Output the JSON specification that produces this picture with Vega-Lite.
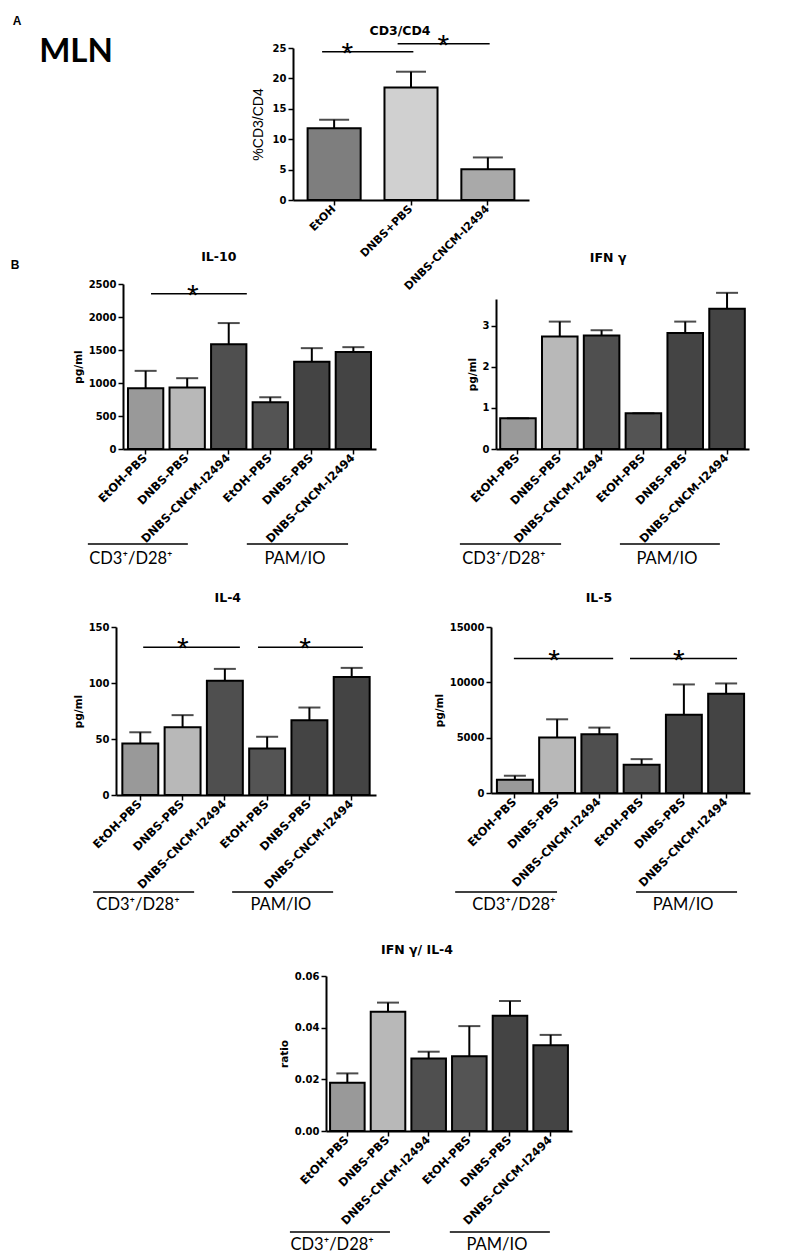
{
  "$schema": "https://vega.github.io/schema/vega-lite/v6.json",
  "width": 787,
  "height": 1253,
  "autosize": {"type": "none"},
  "padding": 0,
  "background": "white",
  "config": {
    "view": {"stroke": null},
    "axis": {"domainColor": "black", "domainWidth": 2, "tickColor": "black", "tickWidth": 1.5, "tickSize": 5, "labelColor": "black", "labelFont": "DejaVu Sans", "labelFontWeight": "bold", "labelFontSize": 10, "titleFont": "DejaVu Sans", "titleFontWeight": "bold", "titleFontSize": 10.5, "titleColor": "black", "grid": false, "labelPadding": 2, "titlePadding": 5},
    "axisX": {"labelAngle": -45, "labelAlign": "right", "labelBaseline": "middle", "labelFontSize": 11.5}
  },
  "datasets": {
    "A": [
      {"k": "EtOH", "v": 11.8, "u": 13.2},
      {"k": "DNBS+PBS", "v": 18.5, "u": 21.1},
      {"k": "DNBS-CNCM-I2494", "v": 5.05, "u": 7.0}
    ],
    "Asig": [
      {"a": 0.37, "b": 1.53, "s": 0.69, "v": 24.4},
      {"a": 1.33, "b": 2.5, "s": 1.91, "v": 25.7}
    ],
    "IL10": [
      {"k": "CD3:EtOH-PBS", "v": 920, "u": 1184},
      {"k": "CD3:DNBS-PBS", "v": 930, "u": 1073},
      {"k": "CD3:DNBS-CNCM-I2494", "v": 1589, "u": 1908},
      {"k": "PAM:EtOH-PBS", "v": 708, "u": 784},
      {"k": "PAM:DNBS-PBS", "v": 1321, "u": 1528},
      {"k": "PAM:DNBS-CNCM-I2494", "v": 1468, "u": 1543}
    ],
    "IL10sig": [{"a": 0.67, "b": 2.96, "s": 1.67, "v": 2353}],
    "IL10g": [
      {"g": "CD3⁺/D28⁺", "a": -0.84, "b": 1.55, "m": 0.19},
      {"g": "PAM/IO", "a": 2.96, "b": 5.38, "m": 4.11}
    ],
    "IFN": [
      {"k": "CD3:EtOH-PBS", "v": 0.75, "u": 0.75},
      {"k": "CD3:DNBS-PBS", "v": 2.74, "u": 3.1},
      {"k": "CD3:DNBS-CNCM-I2494", "v": 2.76, "u": 2.89},
      {"k": "PAM:EtOH-PBS", "v": 0.87, "u": 0.87},
      {"k": "PAM:DNBS-PBS", "v": 2.82, "u": 3.1},
      {"k": "PAM:DNBS-CNCM-I2494", "v": 3.41, "u": 3.8}
    ],
    "IFNg": [
      {"g": "CD3⁺/D28⁺", "a": -0.86, "b": 1.55, "m": 0.19},
      {"g": "PAM/IO", "a": 2.95, "b": 5.33, "m": 4.07}
    ],
    "IL4": [
      {"k": "CD3:EtOH-PBS", "v": 46, "u": 56},
      {"k": "CD3:DNBS-PBS", "v": 60.6, "u": 71.3},
      {"k": "CD3:DNBS-CNCM-I2494", "v": 101.9, "u": 112.6},
      {"k": "PAM:EtOH-PBS", "v": 41.6, "u": 52},
      {"k": "PAM:DNBS-PBS", "v": 66.8, "u": 78.1},
      {"k": "PAM:DNBS-CNCM-I2494", "v": 105.4, "u": 113.5}
    ],
    "IL4sig": [
      {"a": 0.63, "b": 2.87, "s": 1.55, "v": 132},
      {"a": 3.29, "b": 5.72, "s": 4.38, "v": 132}
    ],
    "IL4g": [
      {"g": "CD3⁺/D28⁺", "a": -0.53, "b": 1.81, "m": 0.51},
      {"g": "PAM/IO", "a": 2.69, "b": 5.03, "m": 3.82}
    ],
    "IL5": [
      {"k": "CD3:EtOH-PBS", "v": 1200, "u": 1560},
      {"k": "CD3:DNBS-PBS", "v": 5010, "u": 6660},
      {"k": "CD3:DNBS-CNCM-I2494", "v": 5310, "u": 5910},
      {"k": "PAM:EtOH-PBS", "v": 2550, "u": 3060},
      {"k": "PAM:DNBS-PBS", "v": 7080, "u": 9810},
      {"k": "PAM:DNBS-CNCM-I2494", "v": 8970, "u": 9900}
    ],
    "IL5sig": [
      {"a": 0.53, "b": 2.83, "s": 1.46, "v": 12150},
      {"a": 3.22, "b": 5.7, "s": 4.35, "v": 12150}
    ],
    "IL5g": [
      {"g": "CD3⁺/D28⁺", "a": -0.83, "b": 1.53, "m": 0.53},
      {"g": "PAM/IO", "a": 3.36, "b": 5.7, "m": 4.45}
    ],
    "R": [
      {"k": "CD3:EtOH-PBS", "v": 0.0187, "u": 0.0223},
      {"k": "CD3:DNBS-PBS", "v": 0.0462, "u": 0.0497},
      {"k": "CD3:DNBS-CNCM-I2494", "v": 0.0281, "u": 0.0307},
      {"k": "PAM:EtOH-PBS", "v": 0.0289, "u": 0.0406},
      {"k": "PAM:DNBS-PBS", "v": 0.0446, "u": 0.0503},
      {"k": "PAM:DNBS-CNCM-I2494", "v": 0.0332, "u": 0.0372}
    ],
    "Rg": [
      {"g": "CD3⁺/D28⁺", "a": -0.88, "b": 1.56, "m": 0.15},
      {"g": "PAM/IO", "a": 3.02, "b": 5.46, "m": 4.17}
    ]
  },
  "layer": [
    {
      "layer": [
        {
          "data": {"name": "A"},
          "encoding": {"x": {"field": "k", "type": "nominal", "sort": null, "title": null, "scale": {"domain": ["EtOH", "DNBS+PBS", "DNBS-CNCM-I2494"], "range": [293, 529], "paddingInner": 0.31, "paddingOuter": 0.19}, "axis": {"orient": "bottom", "offset": -1053, "labelFontSize": 11}}},
          "layer": [
            {"mark": {"type": "bar", "stroke": "black", "strokeWidth": 2},
             "encoding": {"y": {"field": "v", "type": "quantitative", "title": "%CD3/CD4", "scale": {"domain": [0, 25], "range": [200, 48], "nice": false, "zero": false}, "axis": {"orient": "left", "offset": -293, "values": [0, 5, 10, 15, 20, 25], "titleFont": "Liberation Sans", "titleFontWeight": "normal", "titleFontSize": 14, "titlePadding": 7}},
                          "fill": {"field": "k", "type": "nominal", "legend": null, "scale": {"domain": ["EtOH", "DNBS+PBS", "DNBS-CNCM-I2494"], "range": ["#7e7e7e", "#d0d0d0", "#a9a9a9"]}}}},
            {"mark": {"type": "rule", "color": "black", "strokeWidth": 2},
             "encoding": {"y": {"field": "v", "type": "quantitative", "title": "%CD3/CD4", "scale": {"domain": [0, 25], "range": [200, 48], "nice": false, "zero": false}, "axis": {"orient": "left", "offset": -293, "values": [0, 5, 10, 15, 20, 25], "titleFont": "Liberation Sans", "titleFontWeight": "normal", "titleFontSize": 14, "titlePadding": 7}}, "y2": {"field": "u"}}},
            {"mark": {"type": "tick", "color": "black", "thickness": 2, "size": 30},
             "encoding": {"y": {"field": "u", "type": "quantitative", "title": "%CD3/CD4", "scale": {"domain": [0, 25], "range": [200, 48], "nice": false, "zero": false}, "axis": {"orient": "left", "offset": -293, "values": [0, 5, 10, 15, 20, 25], "titleFont": "Liberation Sans", "titleFontWeight": "normal", "titleFontSize": 14, "titlePadding": 7}}}}
          ]
        },
        {
          "data": {"name": "Asig"},
          "encoding": {"y": {"field": "v", "type": "quantitative", "scale": {"domain": [0, 25], "range": [200, 48], "nice": false, "zero": false}, "axis": null}},
          "layer": [
            {"mark": {"type": "rule", "color": "black", "strokeWidth": 1.5},
             "encoding": {"x": {"field": "a", "type": "quantitative", "scale": {"domain": [0, 3], "range": [293, 529], "nice": false, "zero": false}, "axis": null}, "x2": {"field": "b"}}},
            {"mark": {"type": "text", "text": "*", "font": "Liberation Sans", "fontSize": 30, "dy": 11, "baseline": "alphabetic", "align": "center", "color": "black"},
             "encoding": {"x": {"field": "s", "type": "quantitative", "scale": {"domain": [0, 3], "range": [293, 529], "nice": false, "zero": false}, "axis": null}}}
          ]
        },
        {
          "data": {"values": [{}]},
          "mark": {"type": "text", "text": "CD3/CD4", "font": "DejaVu Sans", "fontWeight": "bold", "fontSize": 12.5, "align": "center", "baseline": "alphabetic", "color": "black"},
          "encoding": {"x": {"datum": 1.36, "type": "quantitative", "scale": {"domain": [0, 3], "range": [293, 529], "nice": false, "zero": false}, "axis": null},
                       "y": {"datum": 27.1, "type": "quantitative", "scale": {"domain": [0, 25], "range": [200, 48], "nice": false, "zero": false}, "axis": null}}
        }
      ],
      "resolve": {"scale": {"x": "independent", "y": "independent"}, "axis": {"x": "independent", "y": "independent"}}
    },
    {
      "layer": [
        {
          "data": {"name": "IL10"},
          "encoding": {"x": {"field": "k", "type": "nominal", "sort": null, "title": null, "scale": {"domain": ["CD3:EtOH-PBS", "CD3:DNBS-PBS", "CD3:DNBS-CNCM-I2494", "PAM:EtOH-PBS", "PAM:DNBS-PBS", "PAM:DNBS-CNCM-I2494"], "range": [123, 376], "paddingInner": 0.15, "paddingOuter": 0.12}, "axis": {"orient": "bottom", "offset": -804, "labelExpr": "split(datum.value, ':')[1]"}}},
          "layer": [
            {"mark": {"type": "bar", "stroke": "black", "strokeWidth": 2},
             "encoding": {"y": {"field": "v", "type": "quantitative", "title": "pg/ml", "scale": {"domain": [0, 2500], "range": [449, 284], "nice": false, "zero": false}, "axis": {"orient": "left", "offset": -123, "values": [0, 500, 1000, 1500, 2000, 2500], "format": "d"}},
                          "fill": {"field": "k", "type": "nominal", "legend": null, "scale": {"domain": ["CD3:EtOH-PBS", "CD3:DNBS-PBS", "CD3:DNBS-CNCM-I2494", "PAM:EtOH-PBS", "PAM:DNBS-PBS", "PAM:DNBS-CNCM-I2494"], "range": ["#999999", "#b8b8b8", "#4f4f4f", "#545454", "#444444", "#444444"]}}}},
            {"mark": {"type": "rule", "color": "black", "strokeWidth": 2},
             "encoding": {"y": {"field": "v", "type": "quantitative", "title": "pg/ml", "scale": {"domain": [0, 2500], "range": [449, 284], "nice": false, "zero": false}, "axis": {"orient": "left", "offset": -123, "values": [0, 500, 1000, 1500, 2000, 2500], "format": "d"}}, "y2": {"field": "u"}}},
            {"mark": {"type": "tick", "color": "black", "thickness": 2, "size": 22},
             "encoding": {"y": {"field": "u", "type": "quantitative", "title": "pg/ml", "scale": {"domain": [0, 2500], "range": [449, 284], "nice": false, "zero": false}, "axis": {"orient": "left", "offset": -123, "values": [0, 500, 1000, 1500, 2000, 2500], "format": "d"}}}}
          ]
        },
        {
          "data": {"name": "IL10sig"},
          "encoding": {"y": {"field": "v", "type": "quantitative", "scale": {"domain": [0, 2500], "range": [449, 284], "nice": false, "zero": false}, "axis": null}},
          "layer": [
            {"mark": {"type": "rule", "color": "black", "strokeWidth": 1.5},
             "encoding": {"x": {"field": "a", "type": "quantitative", "scale": {"domain": [0, 6], "range": [123, 374], "nice": false, "zero": false}, "axis": null}, "x2": {"field": "b"}}},
            {"mark": {"type": "text", "text": "*", "font": "Liberation Sans", "fontSize": 30, "dy": 11, "baseline": "alphabetic", "align": "center", "color": "black"},
             "encoding": {"x": {"field": "s", "type": "quantitative", "scale": {"domain": [0, 6], "range": [123, 374], "nice": false, "zero": false}, "axis": null}}}
          ]
        },
        {
          "data": {"name": "IL10g"},
          "encoding": {"y": {"datum": 0.775, "type": "quantitative", "scale": {"domain": [0, 1], "range": [575, 535], "nice": false, "zero": false}, "axis": null}},
          "layer": [
            {"mark": {"type": "rule", "color": "black", "strokeWidth": 1.5},
             "encoding": {"x": {"field": "a", "type": "quantitative", "scale": {"domain": [0, 6], "range": [123, 374], "nice": false, "zero": false}, "axis": null}, "x2": {"field": "b"}}},
            {"mark": {"type": "text", "font": "Lato", "fontSize": 16.5, "align": "center", "baseline": "middle", "color": "black", "dy": 15},
             "encoding": {"x": {"field": "m", "type": "quantitative", "scale": {"domain": [0, 6], "range": [123, 374], "nice": false, "zero": false}, "axis": null}, "text": {"field": "g"}}}
          ]
        },
        {
          "data": {"values": [{}]},
          "mark": {"type": "text", "text": "IL-10", "font": "DejaVu Sans", "fontWeight": "bold", "fontSize": 12.5, "align": "center", "baseline": "alphabetic", "color": "black"},
          "encoding": {"x": {"datum": 2.29, "type": "quantitative", "scale": {"domain": [0, 6], "range": [123, 374], "nice": false, "zero": false}, "axis": null},
                       "y": {"datum": 2848, "type": "quantitative", "scale": {"domain": [0, 2500], "range": [449, 284], "nice": false, "zero": false}, "axis": null}}
        }
      ],
      "resolve": {"scale": {"x": "independent", "y": "independent"}, "axis": {"x": "independent", "y": "independent"}}
    },
    {
      "layer": [
        {
          "data": {"name": "IFN"},
          "encoding": {"x": {"field": "k", "type": "nominal", "sort": null, "title": null, "scale": {"domain": ["CD3:EtOH-PBS", "CD3:DNBS-PBS", "CD3:DNBS-CNCM-I2494", "PAM:EtOH-PBS", "PAM:DNBS-PBS", "PAM:DNBS-CNCM-I2494"], "range": [496, 749], "paddingInner": 0.15, "paddingOuter": 0.1}, "axis": {"orient": "bottom", "offset": -804, "labelExpr": "split(datum.value, ':')[1]"}}},
          "layer": [
            {"mark": {"type": "bar", "stroke": "black", "strokeWidth": 2},
             "encoding": {"y": {"field": "v", "type": "quantitative", "title": "pg/ml", "scale": {"domain": [0, 3.65], "range": [449, 299], "nice": false, "zero": false}, "axis": {"orient": "left", "offset": -496, "values": [0, 1, 2, 3], "format": "d"}},
                          "fill": {"field": "k", "type": "nominal", "legend": null, "scale": {"domain": ["CD3:EtOH-PBS", "CD3:DNBS-PBS", "CD3:DNBS-CNCM-I2494", "PAM:EtOH-PBS", "PAM:DNBS-PBS", "PAM:DNBS-CNCM-I2494"], "range": ["#999999", "#b8b8b8", "#4f4f4f", "#545454", "#444444", "#444444"]}}}},
            {"mark": {"type": "rule", "color": "black", "strokeWidth": 2},
             "encoding": {"y": {"field": "v", "type": "quantitative", "title": "pg/ml", "scale": {"domain": [0, 3.65], "range": [449, 299], "nice": false, "zero": false}, "axis": {"orient": "left", "offset": -496, "values": [0, 1, 2, 3], "format": "d"}}, "y2": {"field": "u"}}},
            {"mark": {"type": "tick", "color": "black", "thickness": 2, "size": 22},
             "encoding": {"y": {"field": "u", "type": "quantitative", "title": "pg/ml", "scale": {"domain": [0, 3.65], "range": [449, 299], "nice": false, "zero": false}, "axis": {"orient": "left", "offset": -496, "values": [0, 1, 2, 3], "format": "d"}}}}
          ]
        },
        {
          "data": {"name": "IFNg"},
          "encoding": {"y": {"datum": 0.775, "type": "quantitative", "scale": {"domain": [0, 1], "range": [575, 535], "nice": false, "zero": false}, "axis": null}},
          "layer": [
            {"mark": {"type": "rule", "color": "black", "strokeWidth": 1.5},
             "encoding": {"x": {"field": "a", "type": "quantitative", "scale": {"domain": [0, 6], "range": [496, 748], "nice": false, "zero": false}, "axis": null}, "x2": {"field": "b"}}},
            {"mark": {"type": "text", "font": "Lato", "fontSize": 16.5, "align": "center", "baseline": "middle", "color": "black", "dy": 15},
             "encoding": {"x": {"field": "m", "type": "quantitative", "scale": {"domain": [0, 6], "range": [496, 748], "nice": false, "zero": false}, "axis": null}, "text": {"field": "g"}}}
          ]
        },
        {
          "data": {"values": [{}]},
          "mark": {"type": "text", "text": "IFN γ", "font": "DejaVu Sans", "fontWeight": "bold", "fontSize": 12.5, "align": "center", "baseline": "alphabetic", "color": "black"},
          "encoding": {"x": {"datum": 2.67, "type": "quantitative", "scale": {"domain": [0, 6], "range": [496, 748], "nice": false, "zero": false}, "axis": null},
                       "y": {"datum": 4.55, "type": "quantitative", "scale": {"domain": [0, 3.65], "range": [449, 299], "nice": false, "zero": false}, "axis": null}}
        }
      ],
      "resolve": {"scale": {"x": "independent", "y": "independent"}, "axis": {"x": "independent", "y": "independent"}}
    },
    {
      "layer": [
        {
          "data": {"name": "IL4"},
          "encoding": {"x": {"field": "k", "type": "nominal", "sort": null, "title": null, "scale": {"domain": ["CD3:EtOH-PBS", "CD3:DNBS-PBS", "CD3:DNBS-CNCM-I2494", "PAM:EtOH-PBS", "PAM:DNBS-PBS", "PAM:DNBS-CNCM-I2494"], "range": [116, 376], "paddingInner": 0.15, "paddingOuter": 0.15}, "axis": {"orient": "bottom", "offset": -458, "labelExpr": "split(datum.value, ':')[1]"}}},
          "layer": [
            {"mark": {"type": "bar", "stroke": "black", "strokeWidth": 2},
             "encoding": {"y": {"field": "v", "type": "quantitative", "title": "pg/ml", "scale": {"domain": [0, 150], "range": [795, 627], "nice": false, "zero": false}, "axis": {"orient": "left", "offset": -116, "values": [0, 50, 100, 150], "format": "d"}},
                          "fill": {"field": "k", "type": "nominal", "legend": null, "scale": {"domain": ["CD3:EtOH-PBS", "CD3:DNBS-PBS", "CD3:DNBS-CNCM-I2494", "PAM:EtOH-PBS", "PAM:DNBS-PBS", "PAM:DNBS-CNCM-I2494"], "range": ["#999999", "#b8b8b8", "#4f4f4f", "#545454", "#444444", "#444444"]}}}},
            {"mark": {"type": "rule", "color": "black", "strokeWidth": 2},
             "encoding": {"y": {"field": "v", "type": "quantitative", "title": "pg/ml", "scale": {"domain": [0, 150], "range": [795, 627], "nice": false, "zero": false}, "axis": {"orient": "left", "offset": -116, "values": [0, 50, 100, 150], "format": "d"}}, "y2": {"field": "u"}}},
            {"mark": {"type": "tick", "color": "black", "thickness": 2, "size": 22},
             "encoding": {"y": {"field": "u", "type": "quantitative", "title": "pg/ml", "scale": {"domain": [0, 150], "range": [795, 627], "nice": false, "zero": false}, "axis": {"orient": "left", "offset": -116, "values": [0, 50, 100, 150], "format": "d"}}}}
          ]
        },
        {
          "data": {"name": "IL4sig"},
          "encoding": {"y": {"field": "v", "type": "quantitative", "scale": {"domain": [0, 150], "range": [795, 627], "nice": false, "zero": false}, "axis": null}},
          "layer": [
            {"mark": {"type": "rule", "color": "black", "strokeWidth": 1.5},
             "encoding": {"x": {"field": "a", "type": "quantitative", "scale": {"domain": [0, 6], "range": [116, 375], "nice": false, "zero": false}, "axis": null}, "x2": {"field": "b"}}},
            {"mark": {"type": "text", "text": "*", "font": "Liberation Sans", "fontSize": 30, "dy": 11, "baseline": "alphabetic", "align": "center", "color": "black"},
             "encoding": {"x": {"field": "s", "type": "quantitative", "scale": {"domain": [0, 6], "range": [116, 375], "nice": false, "zero": false}, "axis": null}}}
          ]
        },
        {
          "data": {"name": "IL4g"},
          "encoding": {"y": {"datum": 0.78, "type": "quantitative", "scale": {"domain": [0, 1], "range": [924, 883], "nice": false, "zero": false}, "axis": null}},
          "layer": [
            {"mark": {"type": "rule", "color": "black", "strokeWidth": 1.5},
             "encoding": {"x": {"field": "a", "type": "quantitative", "scale": {"domain": [0, 6], "range": [116, 375], "nice": false, "zero": false}, "axis": null}, "x2": {"field": "b"}}},
            {"mark": {"type": "text", "font": "Lato", "fontSize": 16.5, "align": "center", "baseline": "middle", "color": "black", "dy": 13},
             "encoding": {"x": {"field": "m", "type": "quantitative", "scale": {"domain": [0, 6], "range": [116, 375], "nice": false, "zero": false}, "axis": null}, "text": {"field": "g"}}}
          ]
        },
        {
          "data": {"values": [{}]},
          "mark": {"type": "text", "text": "IL-4", "font": "DejaVu Sans", "fontWeight": "bold", "fontSize": 12.5, "align": "center", "baseline": "alphabetic", "color": "black"},
          "encoding": {"x": {"datum": 2.59, "type": "quantitative", "scale": {"domain": [0, 6], "range": [116, 375], "nice": false, "zero": false}, "axis": null},
                       "y": {"datum": 172.3, "type": "quantitative", "scale": {"domain": [0, 150], "range": [795, 627], "nice": false, "zero": false}, "axis": null}}
        }
      ],
      "resolve": {"scale": {"x": "independent", "y": "independent"}, "axis": {"x": "independent", "y": "independent"}}
    },
    {
      "layer": [
        {
          "data": {"name": "IL5"},
          "encoding": {"x": {"field": "k", "type": "nominal", "sort": null, "title": null, "scale": {"domain": ["CD3:EtOH-PBS", "CD3:DNBS-PBS", "CD3:DNBS-CNCM-I2494", "PAM:EtOH-PBS", "PAM:DNBS-PBS", "PAM:DNBS-CNCM-I2494"], "range": [491, 750], "paddingInner": 0.15, "paddingOuter": 0.14}, "axis": {"orient": "bottom", "offset": -460, "labelExpr": "split(datum.value, ':')[1]"}}},
          "layer": [
            {"mark": {"type": "bar", "stroke": "black", "strokeWidth": 2},
             "encoding": {"y": {"field": "v", "type": "quantitative", "title": "pg/ml", "scale": {"domain": [0, 15000], "range": [793, 627], "nice": false, "zero": false}, "axis": {"orient": "left", "offset": -491, "values": [0, 5000, 10000, 15000], "format": "d"}},
                          "fill": {"field": "k", "type": "nominal", "legend": null, "scale": {"domain": ["CD3:EtOH-PBS", "CD3:DNBS-PBS", "CD3:DNBS-CNCM-I2494", "PAM:EtOH-PBS", "PAM:DNBS-PBS", "PAM:DNBS-CNCM-I2494"], "range": ["#999999", "#b8b8b8", "#4f4f4f", "#545454", "#444444", "#444444"]}}}},
            {"mark": {"type": "rule", "color": "black", "strokeWidth": 2},
             "encoding": {"y": {"field": "v", "type": "quantitative", "title": "pg/ml", "scale": {"domain": [0, 15000], "range": [793, 627], "nice": false, "zero": false}, "axis": {"orient": "left", "offset": -491, "values": [0, 5000, 10000, 15000], "format": "d"}}, "y2": {"field": "u"}}},
            {"mark": {"type": "tick", "color": "black", "thickness": 2, "size": 22},
             "encoding": {"y": {"field": "u", "type": "quantitative", "title": "pg/ml", "scale": {"domain": [0, 15000], "range": [793, 627], "nice": false, "zero": false}, "axis": {"orient": "left", "offset": -491, "values": [0, 5000, 10000, 15000], "format": "d"}}}}
          ]
        },
        {
          "data": {"name": "IL5sig"},
          "encoding": {"y": {"field": "v", "type": "quantitative", "scale": {"domain": [0, 15000], "range": [793, 627], "nice": false, "zero": false}, "axis": null}},
          "layer": [
            {"mark": {"type": "rule", "color": "black", "strokeWidth": 1.5},
             "encoding": {"x": {"field": "a", "type": "quantitative", "scale": {"domain": [0, 6], "range": [491, 750], "nice": false, "zero": false}, "axis": null}, "x2": {"field": "b"}}},
            {"mark": {"type": "text", "text": "*", "font": "Liberation Sans", "fontSize": 30, "dy": 11, "baseline": "alphabetic", "align": "center", "color": "black"},
             "encoding": {"x": {"field": "s", "type": "quantitative", "scale": {"domain": [0, 6], "range": [491, 750], "nice": false, "zero": false}, "axis": null}}}
          ]
        },
        {
          "data": {"name": "IL5g"},
          "encoding": {"y": {"datum": 0.78, "type": "quantitative", "scale": {"domain": [0, 1], "range": [924, 883], "nice": false, "zero": false}, "axis": null}},
          "layer": [
            {"mark": {"type": "rule", "color": "black", "strokeWidth": 1.5},
             "encoding": {"x": {"field": "a", "type": "quantitative", "scale": {"domain": [0, 6], "range": [491, 750], "nice": false, "zero": false}, "axis": null}, "x2": {"field": "b"}}},
            {"mark": {"type": "text", "font": "Lato", "fontSize": 16.5, "align": "center", "baseline": "middle", "color": "black", "dy": 13},
             "encoding": {"x": {"field": "m", "type": "quantitative", "scale": {"domain": [0, 6], "range": [491, 750], "nice": false, "zero": false}, "axis": null}, "text": {"field": "g"}}}
          ]
        },
        {
          "data": {"values": [{}]},
          "mark": {"type": "text", "text": "IL-5", "font": "DejaVu Sans", "fontWeight": "bold", "fontSize": 12.5, "align": "center", "baseline": "alphabetic", "color": "black"},
          "encoding": {"x": {"datum": 2.5, "type": "quantitative", "scale": {"domain": [0, 6], "range": [491, 750], "nice": false, "zero": false}, "axis": null},
                       "y": {"datum": 17254, "type": "quantitative", "scale": {"domain": [0, 15000], "range": [793, 627], "nice": false, "zero": false}, "axis": null}}
        }
      ],
      "resolve": {"scale": {"x": "independent", "y": "independent"}, "axis": {"x": "independent", "y": "independent"}}
    },
    {
      "layer": [
        {
          "data": {"name": "R"},
          "encoding": {"x": {"field": "k", "type": "nominal", "sort": null, "title": null, "scale": {"domain": ["CD3:EtOH-PBS", "CD3:DNBS-PBS", "CD3:DNBS-CNCM-I2494", "PAM:EtOH-PBS", "PAM:DNBS-PBS", "PAM:DNBS-CNCM-I2494"], "range": [326, 572], "paddingInner": 0.15, "paddingOuter": 0.1}, "axis": {"orient": "bottom", "offset": -122, "labelExpr": "split(datum.value, ':')[1]"}}},
          "layer": [
            {"mark": {"type": "bar", "stroke": "black", "strokeWidth": 2},
             "encoding": {"y": {"field": "v", "type": "quantitative", "title": "ratio", "scale": {"domain": [0, 0.06], "range": [1131, 976], "nice": false, "zero": false}, "axis": {"orient": "left", "offset": -326, "values": [0, 0.02, 0.04, 0.06], "format": ".2f"}},
                          "fill": {"field": "k", "type": "nominal", "legend": null, "scale": {"domain": ["CD3:EtOH-PBS", "CD3:DNBS-PBS", "CD3:DNBS-CNCM-I2494", "PAM:EtOH-PBS", "PAM:DNBS-PBS", "PAM:DNBS-CNCM-I2494"], "range": ["#999999", "#b8b8b8", "#4f4f4f", "#545454", "#444444", "#444444"]}}}},
            {"mark": {"type": "rule", "color": "black", "strokeWidth": 2},
             "encoding": {"y": {"field": "v", "type": "quantitative", "title": "ratio", "scale": {"domain": [0, 0.06], "range": [1131, 976], "nice": false, "zero": false}, "axis": {"orient": "left", "offset": -326, "values": [0, 0.02, 0.04, 0.06], "format": ".2f"}}, "y2": {"field": "u"}}},
            {"mark": {"type": "tick", "color": "black", "thickness": 2, "size": 22},
             "encoding": {"y": {"field": "u", "type": "quantitative", "title": "ratio", "scale": {"domain": [0, 0.06], "range": [1131, 976], "nice": false, "zero": false}, "axis": {"orient": "left", "offset": -326, "values": [0, 0.02, 0.04, 0.06], "format": ".2f"}}}}
          ]
        },
        {
          "data": {"name": "Rg"},
          "encoding": {"y": {"datum": 0.775, "type": "quantitative", "scale": {"domain": [0, 1], "range": [1263, 1223], "nice": false, "zero": false}, "axis": null}},
          "layer": [
            {"mark": {"type": "rule", "color": "black", "strokeWidth": 1.5},
             "encoding": {"x": {"field": "a", "type": "quantitative", "scale": {"domain": [0, 6], "range": [326, 572], "nice": false, "zero": false}, "axis": null}, "x2": {"field": "b"}}},
            {"mark": {"type": "text", "font": "Lato", "fontSize": 16.5, "align": "center", "baseline": "middle", "color": "black", "dy": 13},
             "encoding": {"x": {"field": "m", "type": "quantitative", "scale": {"domain": [0, 6], "range": [326, 572], "nice": false, "zero": false}, "axis": null}, "text": {"field": "g"}}}
          ]
        },
        {
          "data": {"values": [{}]},
          "mark": {"type": "text", "text": "IFN γ/ IL-4", "font": "DejaVu Sans", "fontWeight": "bold", "fontSize": 12.5, "align": "center", "baseline": "alphabetic", "color": "black"},
          "encoding": {"x": {"datum": 2.22, "type": "quantitative", "scale": {"domain": [0, 6], "range": [326, 572], "nice": false, "zero": false}, "axis": null},
                       "y": {"datum": 0.0685, "type": "quantitative", "scale": {"domain": [0, 0.06], "range": [1131, 976], "nice": false, "zero": false}, "axis": null}}
        }
      ],
      "resolve": {"scale": {"x": "independent", "y": "independent"}, "axis": {"x": "independent", "y": "independent"}}
    },
    {
      "data": {"values": [{"t": "A", "px": 0.0216, "py": 0.0168}, {"t": "B", "px": 0.0191, "py": 0.2115}]},
      "mark": {"type": "text", "font": "Liberation Sans", "fontWeight": "bold", "fontSize": 12, "align": "center", "baseline": "middle", "color": "black"},
      "encoding": {"x": {"field": "px", "type": "quantitative", "scale": {"domain": [0, 1], "range": [0, 787], "nice": false, "zero": false}, "axis": null},
                   "y": {"field": "py", "type": "quantitative", "scale": {"domain": [0, 1], "range": [0, 1253], "nice": false, "zero": false}, "axis": null},
                   "text": {"field": "t"}}
    },
    {
      "data": {"values": [{"t": "MLN", "px": 0.0966, "py": 0.0415}]},
      "mark": {"type": "text", "font": "Lato", "fontWeight": "bold", "fontSize": 33, "align": "center", "baseline": "middle", "color": "black"},
      "encoding": {"x": {"field": "px", "type": "quantitative", "scale": {"domain": [0, 1], "range": [0, 787], "nice": false, "zero": false}, "axis": null},
                   "y": {"field": "py", "type": "quantitative", "scale": {"domain": [0, 1], "range": [0, 1253], "nice": false, "zero": false}, "axis": null},
                   "text": {"field": "t"}}
    }
  ],
  "resolve": {"scale": {"x": "independent", "y": "independent", "fill": "independent"}, "axis": {"x": "independent", "y": "independent"}}
}
